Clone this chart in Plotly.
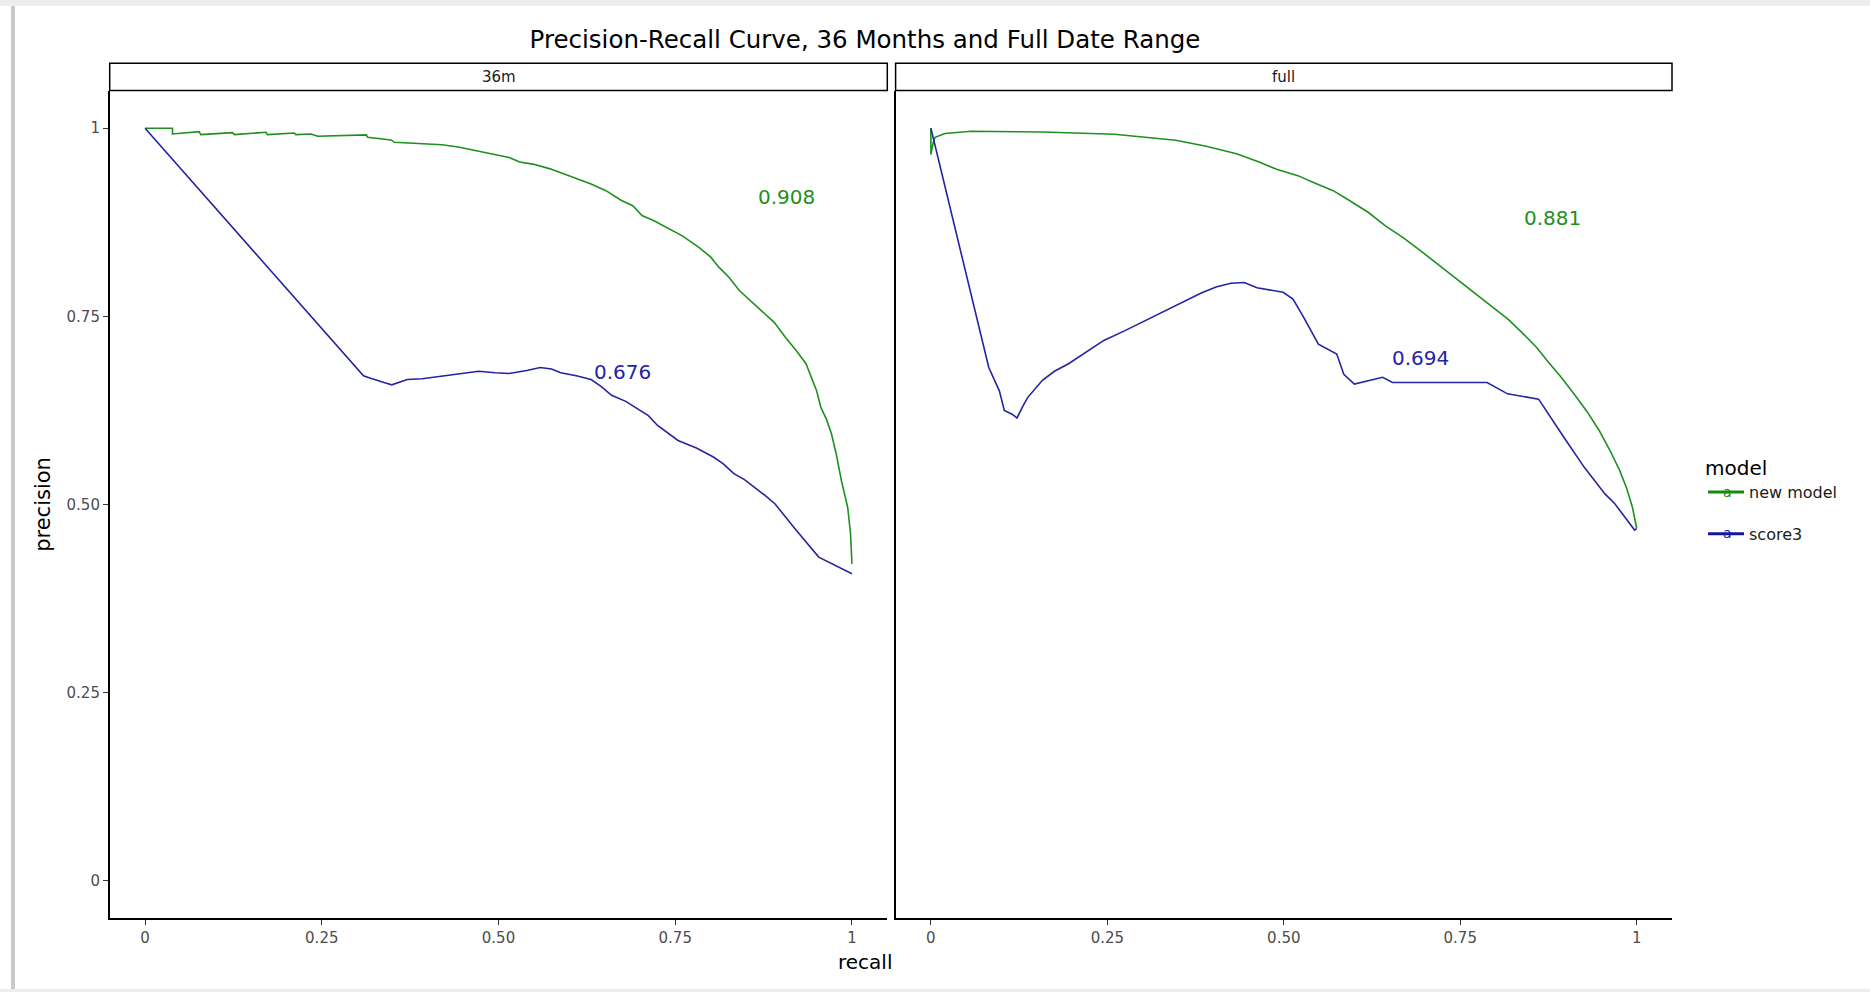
import plotly.graph_objects as go

# ---------------- data ----------------
panels = ["36m", "full"]
models = ["new model", "score3"]

recall_36m_new = [0.0, 0.0388, 0.0388, 0.0765, 0.0789, 0.1237, 0.1261, 0.171, 0.1733, 0.211, 0.2134,
                  0.2347, 0.2442, 0.3130, 0.3148, 0.348, 0.3527, 0.400, 0.420, 0.443, 0.470, 0.501,
                  0.515, 0.530, 0.550, 0.573, 0.600, 0.631, 0.652, 0.674, 0.690, 0.703, 0.720,
                  0.739, 0.760, 0.783, 0.800, 0.812, 0.826, 0.841, 0.855, 0.870, 0.890, 0.906,
                  0.920, 0.935, 0.942, 0.950, 0.956, 0.964, 0.971, 0.978, 0.985, 0.990, 0.994,
                  0.998, 1.0]
precision_36m_new = [1.0, 1.0, 0.9924, 0.9955, 0.9915, 0.9942, 0.9915, 0.9946, 0.9915, 0.9937, 0.9915,
                     0.9924, 0.9893, 0.9911, 0.9879, 0.9844, 0.9813, 0.979, 0.978, 0.975, 0.970, 0.964,
                     0.961, 0.955, 0.952, 0.946, 0.937, 0.926, 0.917, 0.904, 0.897, 0.884, 0.877,
                     0.868, 0.857, 0.842, 0.829, 0.815, 0.802, 0.784, 0.772, 0.758, 0.742, 0.722,
                     0.706, 0.687, 0.669, 0.651, 0.629, 0.613, 0.594, 0.566, 0.532, 0.514, 0.496,
                     0.461, 0.421]

recall_36m_score3 = [0.0, 0.309, 0.318, 0.327, 0.338, 0.349, 0.360, 0.371, 0.392, 0.414, 0.440,
                     0.472, 0.495, 0.515, 0.540, 0.559, 0.575, 0.588, 0.610, 0.631, 0.645,
                     0.660, 0.680, 0.696, 0.712, 0.725, 0.740, 0.754, 0.780, 0.804, 0.818,
                     0.833, 0.848, 0.862, 0.877, 0.891, 0.920, 0.953, 0.975, 1.0]
precision_36m_score3 = [1.0, 0.671, 0.668, 0.665, 0.662, 0.659, 0.663, 0.666, 0.667, 0.670, 0.673,
                        0.677, 0.675, 0.674, 0.678, 0.682, 0.680, 0.675, 0.671, 0.666, 0.657,
                        0.645, 0.637, 0.627, 0.618, 0.605, 0.594, 0.585, 0.575, 0.563, 0.554,
                        0.541, 0.533, 0.523, 0.512, 0.501, 0.467, 0.430, 0.420, 0.408]

recall_full_new = [0.0, 0.0, 0.003, 0.006, 0.02, 0.057, 0.158, 0.26, 0.347, 0.390, 0.433, 0.465,
                   0.491, 0.520, 0.542, 0.570, 0.593, 0.620, 0.643, 0.670, 0.694, 0.720, 0.745,
                   0.770, 0.795, 0.818, 0.839, 0.858, 0.875, 0.893, 0.911, 0.930, 0.947, 0.962,
                   0.976, 0.986, 0.994, 0.998, 1.0]
precision_full_new = [1.0, 0.965, 0.980, 0.988, 0.993, 0.996, 0.995, 0.992, 0.984, 0.976, 0.966, 0.955,
                      0.945, 0.937, 0.928, 0.917, 0.904, 0.888, 0.871, 0.854, 0.837, 0.818, 0.800,
                      0.782, 0.764, 0.746, 0.727, 0.709, 0.689, 0.669, 0.647, 0.623, 0.598, 0.572,
                      0.545, 0.521, 0.496, 0.478, 0.468]

recall_full_score3 = [0.0, 0.082, 0.097, 0.104, 0.115, 0.122, 0.130, 0.137, 0.158, 0.175, 0.195,
                      0.220, 0.245, 0.275, 0.303, 0.332, 0.361, 0.383, 0.404, 0.425, 0.444, 0.462,
                      0.499, 0.513, 0.528, 0.549, 0.575, 0.585, 0.600, 0.620, 0.640, 0.654, 0.788,
                      0.817, 0.861, 0.897, 0.926, 0.955, 0.969, 0.997, 1.0]
precision_full_score3 = [1.0, 0.682, 0.651, 0.625, 0.620, 0.615, 0.630, 0.642, 0.665, 0.677, 0.687,
                         0.703, 0.718, 0.731, 0.744, 0.758, 0.771, 0.781, 0.789, 0.794, 0.795, 0.788,
                         0.782, 0.773, 0.749, 0.713, 0.700, 0.673, 0.660, 0.664, 0.669, 0.662, 0.662,
                         0.647, 0.640, 0.589, 0.549, 0.514, 0.501, 0.466, 0.468]

auc_36m = [0.908, 0.676]
auc_full = [0.881, 0.694]

tick_vals = [0, 0.25, 0.5, 0.75, 1]
tick_text = ["0", "0.25", "0.50", "0.75", "1"]

colors = {"new model": "#1e901e", "score3": "#2424a4"}
legend_colors = {"new model": "#138a13", "score3": "#16169a"}
FONT = "DejaVu Sans"

W, H = 1870, 992

fig = go.Figure()

series = {
    ("36m", "new model"): (recall_36m_new, precision_36m_new),
    ("36m", "score3"): (recall_36m_score3, precision_36m_score3),
    ("full", "new model"): (recall_full_new, precision_full_new),
    ("full", "score3"): (recall_full_score3, precision_full_score3),
}
aucs = {"36m": auc_36m, "full": auc_full}

for pi, panel in enumerate(panels):
    xa = "x" if pi == 0 else "x2"
    ya = "y" if pi == 0 else "y2"
    for mi, m in enumerate(models):
        rx, py = series[(panel, m)]
        fig.add_trace(go.Scatter(
            x=rx, y=py, mode="lines", name=m, legendgroup=m,
            showlegend=False,
            line=dict(color=colors[m], width=1.6),
            xaxis=xa, yaxis=ya,
        ))
        a = aucs[panel][mi]
        fig.add_annotation(x=a, y=a, xref=xa, yref=ya, text=f"{a:.3f}",
                           showarrow=False, font=dict(family=FONT, size=20, color=colors[m]))

# legend entries (thicker keys, like the reference)
for m in models:
    fig.add_trace(go.Scatter(
        x=[None], y=[None], mode="lines", name=m, legendgroup=m,
        line=dict(color=legend_colors[m], width=3), showlegend=True,
    ))

# pixel-based domains
def px_x(p):
    return p / W

def px_y(p):
    return 1 - p / H

left_dom = [px_x(109.7), px_x(887.3)]
right_dom = [px_x(895.6), px_x(1672.0)]
y_dom = [px_y(918.3), px_y(90.6)]

axis_common = dict(range=[-0.05, 1.05], tickvals=tick_vals, ticktext=tick_text,
                   showgrid=False, zeroline=False, showline=True, linecolor="black",
                   linewidth=1.5, ticks="outside", ticklen=5, tickcolor="#333333",
                   tickfont=dict(family=FONT, size=15, color="#4d4d4d"))

fig.update_layout(
    width=W, height=H, autosize=False,
    margin=dict(l=0, r=0, t=0, b=0),
    paper_bgcolor="white", plot_bgcolor="white",
    font=dict(family=FONT),
    xaxis=dict(domain=left_dom, anchor="y", **axis_common),
    xaxis2=dict(domain=right_dom, anchor="y2", **axis_common),
    yaxis=dict(domain=y_dom, anchor="x", title=dict(text="precision", standoff=10,
               font=dict(family=FONT, size=21, color="black")), **axis_common),
    yaxis2=dict(domain=y_dom, anchor="x2", **{**axis_common, "showticklabels": False, "ticks": ""}),
    legend=dict(x=px_x(1703), y=px_y(449), xanchor="left", yanchor="top",
                title=dict(text="model", font=dict(family=FONT, size=20, color="black")),
                font=dict(family=FONT, size=16, color="#1a1a1a"),
                bgcolor="rgba(0,0,0,0)", tracegroupgap=18, itemwidth=36),
    title=dict(text="Precision-Recall Curve, 36 Months and Full Date Range",
               x=px_x(865), xanchor="center", y=px_y(39.4), yanchor="middle",
               font=dict(family=FONT, size=24.5, color="black")),
    showlegend=True,
)

# "a" glyphs on the legend keys (text-geom legend keys in the reference)
for m, ypx in zip(models, [491.5, 533]):
    fig.add_annotation(text="a", x=px_x(1727), y=px_y(ypx), xref="paper", yref="paper",
                       showarrow=False, font=dict(family=FONT, size=14, color=legend_colors[m]),
                       xanchor="center", yanchor="middle")

# x-axis title shared
fig.add_annotation(text="recall", x=px_x(865), y=px_y(962), xref="paper", yref="paper",
                   showarrow=False, font=dict(family=FONT, size=20, color="black"),
                   xanchor="center", yanchor="middle")

# facet strips
for pi, panel in enumerate(panels):
    xd = "x domain" if pi == 0 else "x2 domain"
    fig.add_shape(type="rect", xref=xd, yref="paper", x0=0, x1=1,
                  y0=px_y(90.6), y1=px_y(63.2), line=dict(color="black", width=1.5),
                  fillcolor="white", layer="above")
    fig.add_annotation(text=panel, xref=xd, yref="paper", x=0.5, y=px_y(76.9),
                       showarrow=False, font=dict(family=FONT, size=15, color="#1a1a1a"),
                       xanchor="center", yanchor="middle")

# screenshot frame (decoration)
fig.add_shape(type="rect", xref="paper", yref="paper", x0=0, x1=1, y0=px_y(6), y1=1,
              line=dict(width=0), fillcolor="#ededed", layer="below")
fig.add_shape(type="rect", xref="paper", yref="paper", x0=px_x(11), x1=px_x(15), y0=0, y1=px_y(6),
              line=dict(width=0), fillcolor="#c9c9c9", layer="below")
fig.add_shape(type="rect", xref="paper", yref="paper", x0=0, x1=1, y0=0, y1=px_y(989),
              line=dict(width=0), fillcolor="#eeeeee", layer="below")

fig.write_html("out.html")
